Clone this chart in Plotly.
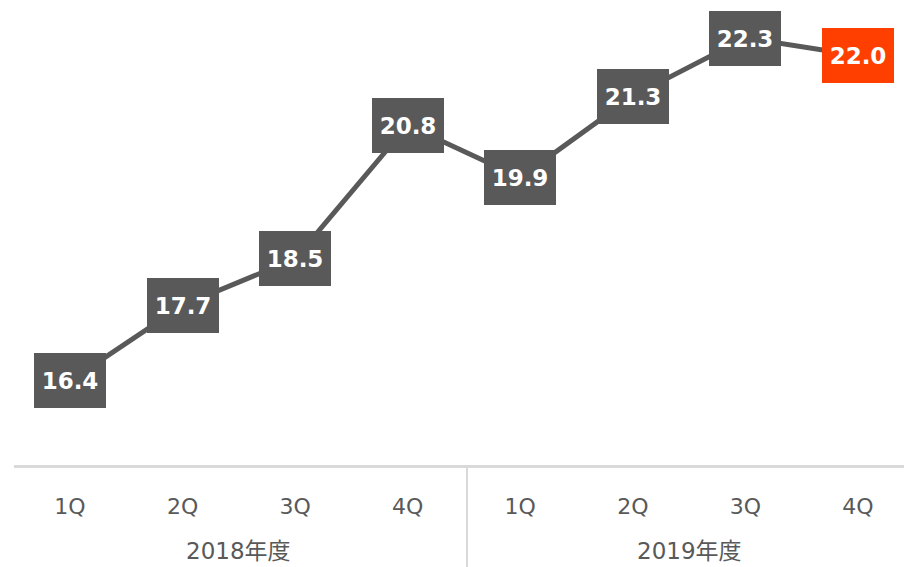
import plotly.graph_objects as go

quarters = ["1Q", "2Q", "3Q", "4Q", "1Q", "2Q", "3Q", "4Q"]
years = ["2018年度", "2019年度"]
values = [16.4, 17.7, 18.5, 20.8, 19.9, 21.3, 22.3, 22.0]
labels = ["16.4", "17.7", "18.5", "20.8", "19.9", "21.3", "22.3", "22.0"]
box_colors = ["#595959"] * 7 + ["#FF3F00"]

xs = list(range(len(values)))

fig = go.Figure()
fig.add_trace(go.Scatter(
    x=xs, y=values, mode="lines",
    line=dict(color="#595959", width=5),
    hoverinfo="skip", showlegend=False,
))

for x, v, t, c in zip(xs, values, labels, box_colors):
    fig.add_annotation(
        x=x, y=v, xref="x", yref="y", text=t, showarrow=False,
        bgcolor=c, width=72, height=55, borderpad=0, borderwidth=0,
        font=dict(family="DejaVu Sans", size=23, color="white", weight="bold"),
        align="center", valign="middle",
    )

for i, yl in enumerate(years):
    fig.add_annotation(
        x=1.5 + 4 * i, y=-0.185, xref="x", yref="paper", text=yl,
        showarrow=False, yanchor="middle",
        font=dict(family="DejaVu Sans, Noto Sans CJK JP", size=23, color="#595959"),
    )

fig.add_shape(type="line", xref="paper", yref="paper",
              x0=0.509, x1=0.509, y0=0, y1=-0.23,
              line=dict(color="#D9D9D9", width=2))

fig.update_layout(
    width=904, height=567,
    margin=dict(l=14, r=0, t=0, b=102),
    paper_bgcolor="white", plot_bgcolor="white",
    xaxis=dict(range=[-0.4975, 7.409], tickvals=xs, ticktext=quarters,
               showgrid=False, zeroline=False, showline=True,
               linecolor="#D9D9D9", linewidth=3, ticks="",
               ticklabelstandoff=20,
               tickfont=dict(family="DejaVu Sans", size=22, color="#595959")),
    yaxis=dict(range=[14.954, 22.954], visible=False),
    showlegend=False,
)

fig.write_html("out.html", config={"displayModeBar": False},
               post_script="document.body.style.margin='0';document.body.style.overflow='hidden';")
